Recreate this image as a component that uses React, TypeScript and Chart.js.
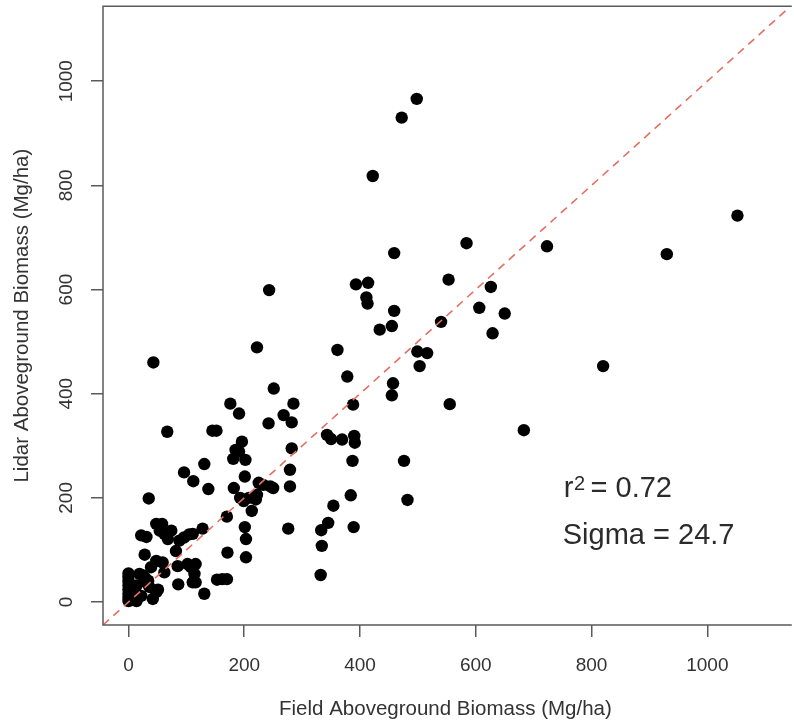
import React, { useEffect, useRef } from "react";
import { Chart, registerables } from "chart.js";

Chart.register(...registerables);

// Field (x) and Lidar (y) aboveground biomass, Mg/ha
const FIELD = [
  0, 0, 0, 0, 0, 0, 0, 0,
  6, 14, 12, 14, 19, 22, 28, 31, 36, 42, 48, 51, 34, 25,
  28, 22, 31, 35, 48, 58,
  39, 48, 59, 62, 54, 62, 74, 68,
  85, 86, 82, 88, 96, 105, 111,
  102, 108, 116, 114, 111, 116, 131,
  128, 96, 112, 67, 145, 152, 131, 138, 43,
  153, 162, 170, 171, 170,
  181, 182, 185, 191, 196, 191, 176,
  202, 201, 193, 199, 208, 213, 201, 203, 203,
  222, 220, 225, 233, 245, 250,
  242, 268, 282, 282, 279, 279, 276, 285, 251, 222, 243,
  343, 350, 369, 390, 391, 387, 388, 378, 361,
  384, 354, 345, 333, 389, 334, 332,
  476, 482,
  457, 455, 555, 499, 516, 503, 683, 820,
  455, 434, 540, 629, 459, 650, 606, 626, 553,
  393, 414, 411, 413, 459, 584, 723, 930, 1052,
  422, 472, 498,
];
const LIDAR = [
  2, 9, 16, 24, 32, 40, 48, 55,
  4, 2, 20, 32, 54, 12, 48, 38, 29, 6, 19, 24, 41, 51,
  91, 128, 125, 199, 150, 150,
  67, 79, 76, 57, 137, 131, 137, 121,
  69, 34, 98, 118, 124, 130, 131,
  73, 67, 73, 54, 38, 38, 16,
  141, 249, 232, 327, 329, 329, 265, 217, 460,
  43, 44, 44, 95, 164,
  275, 219, 292, 289, 308, 362, 381,
  273, 241, 200, 194, 200, 175, 144, 121, 86,
  206, 197, 229, 225, 222, 219,
  343, 359, 345, 295, 254, 222, 141, 381, 410, 489, 599,
  321, 313, 312, 319, 306, 271, 379, 433, 484,
  205, 185, 152, 138, 144, 108, 52,
  271, 196,
  420, 397, 380, 481, 478, 453, 330, 453,
  530, 523, 538, 516, 559, 554, 565, 605, 619,
  610, 613, 585, 573, 670, 689, 683, 668, 742,
  818, 930, 966,
];

const X_TICKS = [0, 200, 400, 600, 800, 1000];
const X_TICK_LABELS = ["0", "200", "400", "600", "800", "1000"];
const Y_TICKS = [0, 200, 400, 600, 800, 1000];
const Y_TICK_LABELS = ["0", "200", "400", "600", "800", "1000"];

const X_TITLE = "Field Aboveground Biomass (Mg/ha)";
const Y_TITLE = "Lidar Aboveground Biomass (Mg/ha)";

const X_RANGE = [-44, 1139];
const Y_RANGE = [-44, 1144];
const ONE_TO_ONE = [-44, 1144];

const R2_TEXT = "= 0.72";
const SIGMA_TEXT = "Sigma = 24.7";
const ANNOT_X = 752;
const R2_Y = 202;
const SIGMA_Y = 112;

const FONT = "'Liberation Sans', Arial, Helvetica, sans-serif";
const AXIS_COLOR = "#5a5a5a";
const TEXT_COLOR = "#333333";

const boxPlugin = {
  id: "boxAndText",
  afterDraw(chart: any) {
    const { ctx, chartArea: a, scales } = chart;
    ctx.save();
    ctx.strokeStyle = AXIS_COLOR;
    ctx.lineWidth = 1.5;
    ctx.beginPath();
    ctx.moveTo(a.right + 4, a.top);
    ctx.lineTo(a.left, a.top);
    ctx.lineTo(a.left, a.bottom);
    ctx.lineTo(a.right + 4, a.bottom);
    ctx.stroke();

    const x = scales.x.getPixelForValue(ANNOT_X);
    const y1 = scales.y.getPixelForValue(R2_Y);
    const y2 = scales.y.getPixelForValue(SIGMA_Y);
    ctx.fillStyle = "#2b2b2b";
    ctx.textBaseline = "alphabetic";
    ctx.textAlign = "left";
    ctx.font = `29px ${FONT}`;
    ctx.fillText("r", x, y1);
    const rw = ctx.measureText("r").width;
    ctx.font = `20px ${FONT}`;
    ctx.fillText("2", x + rw + 0.5, y1 - 7);
    const tw = ctx.measureText("2").width;
    ctx.font = `29px ${FONT}`;
    ctx.fillText(R2_TEXT, x + rw + tw + 6, y1);
    ctx.fillText(SIGMA_TEXT, x - 1, y2);
    ctx.restore();
  },
};

export default function App() {
  const ref = useRef<HTMLCanvasElement | null>(null);

  useEffect(() => {
    document.body.style.margin = "0";
    const canvas = ref.current;
    if (!canvas) return;
    const points = FIELD.map((v, i) => ({ x: v, y: LIDAR[i] }));
    const line = ONE_TO_ONE.map((v) => ({ x: v, y: v }));

    const chart = new Chart(canvas, {
      type: "scatter",
      data: {
        datasets: [
          {
            data: line,
            showLine: true,
            borderColor: "rgb(228,112,98)",
            borderWidth: 1.6,
            borderDash: [8, 6],
            pointRadius: 0,
            order: 0,
          } as any,
          {
            data: points,
            pointRadius: 6.2,
            pointHoverRadius: 6.2,
            backgroundColor: "#000000",
            borderWidth: 0,
            order: 1,
          },
        ],
      },
      plugins: [boxPlugin],
      options: {
        animation: false,
        responsive: false,
        devicePixelRatio: 1,
        layout: { padding: { top: 1, left: 0, right: 0, bottom: 0 } },
        plugins: {
          legend: { display: false },
          tooltip: { enabled: false },
        },
        scales: {
          x: {
            type: "linear",
            position: "bottom",
            min: X_RANGE[0],
            max: X_RANGE[1],
            afterBuildTicks: (scale: any) => {
              scale.ticks = X_TICKS.map((v) => ({ value: v }));
            },
            afterFit: (scale: any) => {
              scale.height = 100;
              scale.paddingLeft = 0;
              scale.paddingRight = 0;
            },
            border: { display: false },
            grid: {
              display: true,
              drawOnChartArea: false,
              drawTicks: true,
              tickLength: 12,
              tickColor: AXIS_COLOR,
              tickWidth: 1.5,
              color: AXIS_COLOR,
              lineWidth: 1.5,
            },
            ticks: {
              autoSkip: false,
              maxRotation: 0,
              minRotation: 0,
              padding: 17,
              color: TEXT_COLOR,
              font: { family: FONT, size: 19 },
              callback: (v: any) => X_TICK_LABELS[X_TICKS.indexOf(Number(v))] ?? "",
            },
            title: {
              display: true,
              text: X_TITLE,
              color: TEXT_COLOR,
              font: { family: FONT, size: 20.5 },
              padding: { top: 0, bottom: 3 },
            },
          },
          y: {
            type: "linear",
            position: "left",
            min: Y_RANGE[0],
            max: Y_RANGE[1],
            afterBuildTicks: (scale: any) => {
              scale.ticks = Y_TICKS.map((v) => ({ value: v }));
            },
            afterFit: (scale: any) => {
              scale.width = 103;
              scale.paddingTop = 0;
              scale.paddingBottom = 0;
            },
            border: { display: false },
            grid: {
              display: true,
              drawOnChartArea: false,
              drawTicks: true,
              tickLength: 12,
              tickColor: AXIS_COLOR,
              tickWidth: 1.5,
              color: AXIS_COLOR,
              lineWidth: 1.5,
            },
            ticks: {
              autoSkip: false,
              minRotation: 90,
              maxRotation: 90,
              crossAlign: "center",
              padding: 3,
              color: TEXT_COLOR,
              font: { family: FONT, size: 19 },
              callback: (v: any) => Y_TICK_LABELS[Y_TICKS.indexOf(Number(v))] ?? "",
            },
            title: {
              display: true,
              text: Y_TITLE,
              color: TEXT_COLOR,
              font: { family: FONT, size: 20.5 },
              padding: { top: 10, bottom: 0 },
            },
          },
        },
      } as any,
    });
    return () => chart.destroy();
  }, []);

  return (
    <div style={{ width: 794, height: 725 }}>
      <canvas ref={ref} width={794} height={725} style={{ display: "block", width: 794, height: 725 }} />
    </div>
  );
}
